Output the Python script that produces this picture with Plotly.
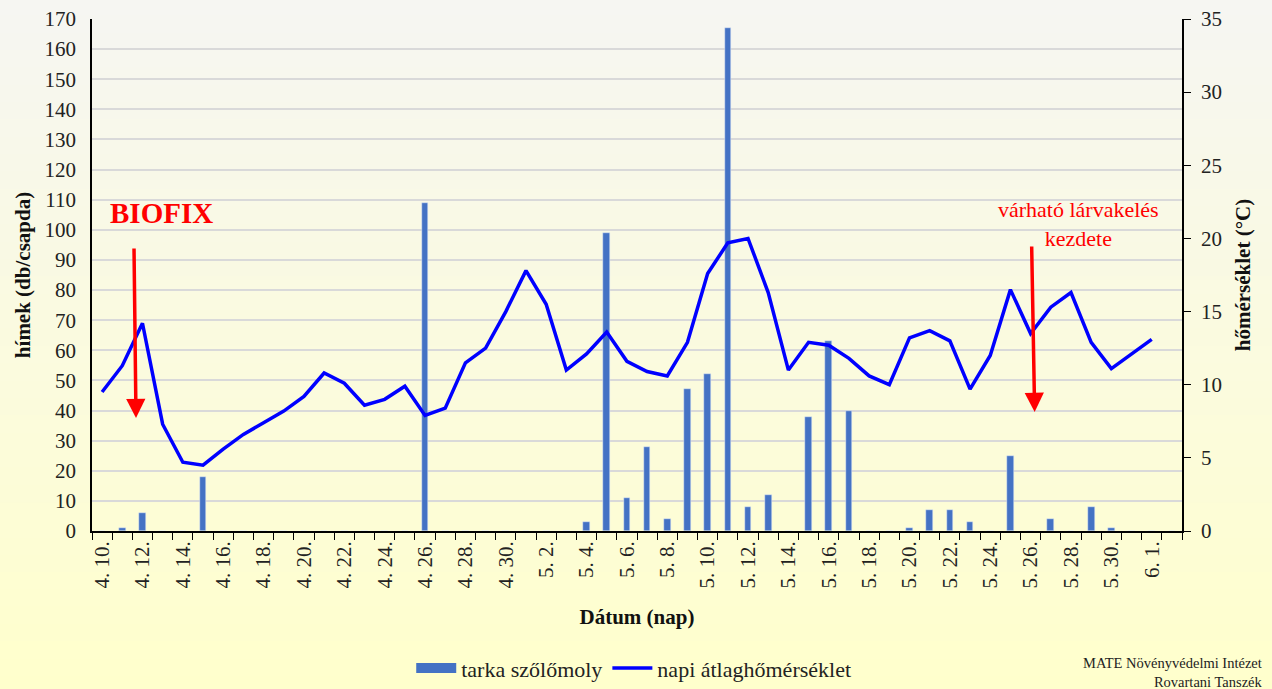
import datetime as dt
import plotly.graph_objects as go

# ---- data ----
start = dt.date(2024, 4, 10)
dates = [start + dt.timedelta(days=i) for i in range(54)]  # 4.10 .. 6.2
categories = [f"{d.month}. {d.day}." for d in dates]
tick_labels = [c if i % 2 == 0 else "" for i, c in enumerate(categories)]

moth_counts = [0, 1, 6, 0, 0, 18, 0, 0, 0, 0, 0, 0, 0, 0, 0, 0, 109,
               0, 0, 0, 0, 0, 0, 0, 3, 99, 11, 28, 4, 47, 52, 167, 8, 12, 0,
               38, 63, 40, 0, 0, 1, 7, 7, 3, 0, 25, 0, 4, 0, 8, 1, 0, 0, 0]

temperature = [9.5, 11.3, 14.2, 7.3, 4.7, 4.5, 5.6, 6.6, 7.4, 8.2, 9.2, 10.8, 10.1,
               8.6, 9.0, 9.9, 7.9, 8.4, 11.5, 12.5, 15.0,
               17.8, 15.5, 11.0, 12.1, 13.6, 11.6, 10.9, 10.6, 12.9, 17.6, 19.7, 20.0,
               16.3, 11.0, 12.9, 12.7, 11.8, 10.6, 10.0, 13.2, 13.7, 13.0, 9.7, 12.0,
               16.5, 13.5, 15.3, 16.3, 12.9, 11.1, 12.1, 13.1, None]

SERIF = "Liberation Serif"
BAR_COLOR = "#4472C4"

fig = go.Figure()
fig.add_trace(go.Bar(x=categories, y=moth_counts, name="tarka szőlőmoly",
                     marker_color=BAR_COLOR, width=0.33, showlegend=False,
                     legendgroup="moth"))
# legend entry drawn as a wide swatch (no data)
fig.add_trace(go.Scatter(x=[None], y=[None], name="tarka szőlőmoly", mode="lines",
                         line=dict(color=BAR_COLOR, width=13), legendgroup="moth"))
fig.add_trace(go.Scatter(x=categories, y=temperature, name="napi átlaghőmérséklet",
                         mode="lines", line=dict(color="#0000FF", width=3.5),
                         yaxis="y2"))

# gradient background bands
n = 40
top_c = (246, 246, 242)
bot_c = (255, 255, 204)
y_lo, y_hi = -0.32, 1.04
shapes = []
for k in range(n):
    t = k / (n - 1)
    c = tuple(int(round(top_c[j] + (bot_c[j] - top_c[j]) * t)) for j in range(3))
    y1 = y_hi - (y_hi - y_lo) * k / n
    y0 = y_hi - (y_hi - y_lo) * (k + 1) / n
    if k == 0:
        y1 = 1.2
    if k == n - 1:
        y0 = -0.5
    shapes.append(dict(type="rect", xref="paper", yref="paper", x0=-0.2, x1=1.3,
                       y0=y0 - 0.002, y1=y1 + 0.002, fillcolor="rgb(%d,%d,%d)" % c,
                       line=dict(width=0), layer="below"))

fig.update_layout(
    width=1272, height=689,
    margin=dict(l=92, r=90, t=19, b=158, autoexpand=False),
    paper_bgcolor="rgb(255,255,204)",
    plot_bgcolor="rgba(0,0,0,0)",
    font=dict(family=SERIF, size=21, color="#222"),
    shapes=shapes,
    bargap=0,
    showlegend=True,
    legend=dict(orientation="h", x=0.497, xanchor="center", y=-0.268, yanchor="middle",
                font=dict(family=SERIF, size=22, color="#222"),
                bgcolor="rgba(0,0,0,0)", itemwidth=40, tracegroupgap=0,
                traceorder="normal"),
    xaxis=dict(type="category", categoryorder="array", categoryarray=categories,
               tickmode="array", tickvals=categories, ticktext=tick_labels,
               tickson="boundaries", ticks="outside", ticklen=7, tickcolor="black",
               tickangle=-90, showline=True, linecolor="black", linewidth=1.5,
               showgrid=False, range=[-0.5, 53.5],
               tickfont=dict(family=SERIF, size=21, color="#222"),
               title=dict(text="<b>Dátum (nap)</b>", font=dict(family=SERIF, size=21, color="#111"),
                          standoff=22)),
    yaxis=dict(range=[0, 170], dtick=10, showline=True, linecolor="black", linewidth=1.5,
               ticks="", gridcolor="#d9d9d9", gridwidth=1.5, zeroline=False,
               ticklabelstandoff=10,
               tickfont=dict(family=SERIF, size=21, color="#222"),
               title=dict(text="<b>hímek (db/csapda)</b>", font=dict(family=SERIF, size=21, color="#111"),
                          standoff=8)),
    yaxis2=dict(range=[0, 35], dtick=5, overlaying="y", side="right", showline=True,
                linecolor="black", linewidth=1.5, ticks="outside", ticklen=7,
                tickcolor="black", showgrid=False, zeroline=False,
                ticklabelstandoff=6,
                tickfont=dict(family=SERIF, size=21, color="#222"),
                title=dict(text="<b>hőmérséklet (°C)</b>", font=dict(family=SERIF, size=21, color="#111"),
                           standoff=14)),
    annotations=[
        dict(text="<b>BIOFIX</b>", xref="paper", yref="paper", x=0.064, y=0.621,
             xanchor="center", yanchor="middle",
             showarrow=False, font=dict(family=SERIF, size=29, color="#FF0000")),
        dict(x=1.68, y=37.5, xref="x", yref="y", ax=-2, ay=-171, text="",
             showarrow=True, arrowhead=2, arrowsize=1.1, arrowwidth=3.5, arrowcolor="#FF0000"),
        dict(x=46.2, y=39.5, xref="x", yref="y", ax=-3, ay=-167, text="",
             showarrow=True, arrowhead=2, arrowsize=1.1, arrowwidth=3.5, arrowcolor="#FF0000"),
        dict(text="várható lárvakelés<br>kezdete", xref="paper", yref="paper",
             x=0.905, y=0.60, xanchor="center", yanchor="middle", showarrow=False,
             font=dict(family=SERIF, size=22, color="#FF0000")),
        dict(text="MATE Növényvédelmi Intézet<br>Rovartani Tanszék", xref="paper", yref="paper",
             x=1.0762, xanchor="right", y=-0.238, yanchor="top", align="right",
             showarrow=False, font=dict(family=SERIF, size=14.5, color="#222")),
    ],
)

fig.write_html("out.html", config={"displayModeBar": False},
               post_script="document.body.style.margin='0';")
